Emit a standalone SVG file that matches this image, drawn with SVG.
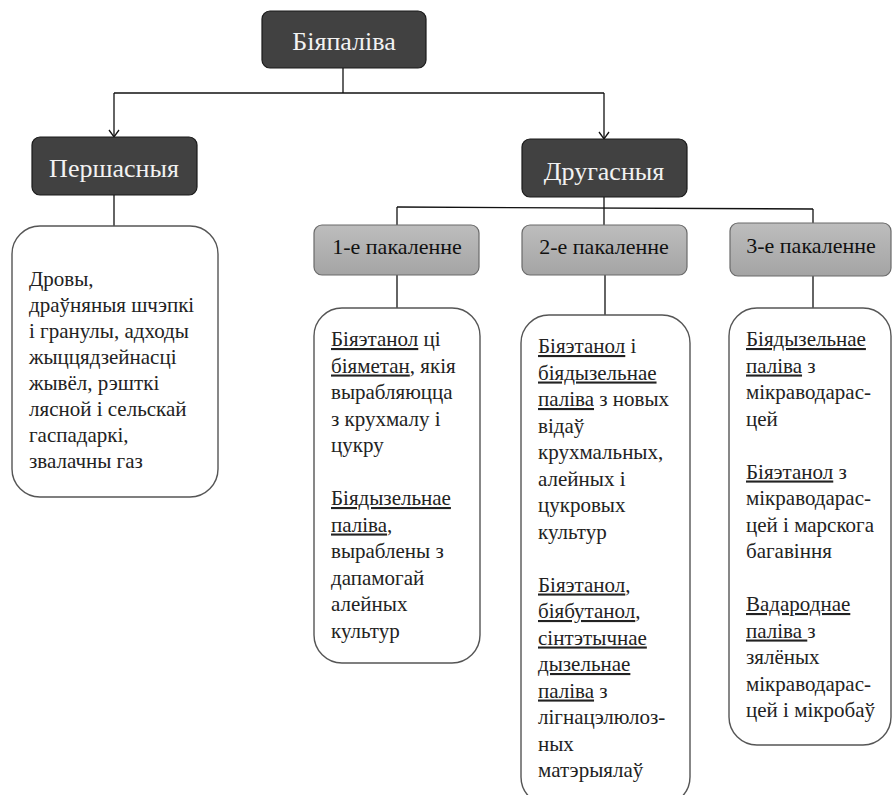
<svg xmlns="http://www.w3.org/2000/svg" width="893" height="795" viewBox="0 0 893 795">
<defs>
<linearGradient id="g" x1="0" y1="0" x2="0" y2="1">
<stop offset="0" stop-color="#bdbdbd"/>
<stop offset="1" stop-color="#a4a4a4"/>
</linearGradient>
<marker id="arr" markerWidth="12" markerHeight="12" refX="10" refY="6" orient="auto" markerUnits="userSpaceOnUse" viewBox="0 0 12 12">
<path d="M3,1 L10,6 L3,11" fill="none" stroke="#111" stroke-width="1.3"/>
</marker>
</defs>
<rect width="893" height="795" fill="#fff"/>
<g id="connectors" fill="none" stroke="#111" stroke-width="1.3">
<path d="M343,68 V93"/>
<path d="M114,93 H604"/>
<path d="M114,93 V137" marker-end="url(#arr)"/>
<path d="M604,93 V139" marker-end="url(#arr)"/>
<path d="M114,195 V226"/>
<path d="M604,197 V208"/>
<path d="M397,207 L813,209"/>
<path d="M397,207 V225"/>
<path d="M604,208 V225"/>
<path d="M813,209 V224"/>
<path d="M397,275 V308"/>
<path d="M605,275 V315"/>
<path d="M813,276 V308"/>
</g>
<g id="biopaliva">
<rect fill="#414141" stroke="#1a1a1a" stroke-width="1.2" x="262" y="11" width="164" height="57" rx="8"/>
<text font-family="Liberation Serif" font-size="26" fill="#f2f2f2" text-anchor="middle" x="344" y="50">Біяпаліва</text>
</g>
<g id="pershasnyja">
<rect fill="#414141" stroke="#1a1a1a" stroke-width="1.2" x="32" y="137" width="165" height="58" rx="8"/>
<text font-family="Liberation Serif" font-size="26" fill="#f2f2f2" text-anchor="middle" x="114" y="177">Першасныя</text>
</g>
<g id="drugasnyja">
<rect fill="#414141" stroke="#1a1a1a" stroke-width="1.2" x="522" y="139" width="165" height="58" rx="8"/>
<text font-family="Liberation Serif" font-size="26" fill="#f2f2f2" text-anchor="middle" x="604" y="180">Другасныя</text>
</g>
<g id="gen1">
<rect fill="url(#g)" stroke="#6a6a6a" stroke-width="1.2" x="314" y="225" width="165" height="50" rx="8"/>
<text font-family="Liberation Serif" font-size="22" fill="#111" text-anchor="middle" x="397" y="254">1-е пакаленне</text>
</g>
<g id="gen2">
<rect fill="url(#g)" stroke="#6a6a6a" stroke-width="1.2" x="522" y="225" width="165" height="50" rx="8"/>
<text font-family="Liberation Serif" font-size="22" fill="#111" text-anchor="middle" x="604" y="254">2-е пакаленне</text>
</g>
<g id="gen3">
<rect fill="url(#g)" stroke="#6a6a6a" stroke-width="1.2" x="730" y="223" width="161" height="53" rx="8"/>
<text font-family="Liberation Serif" font-size="22" fill="#111" text-anchor="middle" x="811" y="253">3-е пакаленне</text>
</g>
<g id="primary-content">
<rect fill="#fff" stroke="#555" stroke-width="1.4" x="12" y="226" width="206" height="271" rx="28"/>
<text font-family="Liberation Serif" font-size="21" fill="#222">
<tspan x="29" y="286">Дровы,</tspan>
<tspan x="29" y="312">драўняныя шчэпкі</tspan>
<tspan x="29" y="338">і гранулы, адходы</tspan>
<tspan x="29" y="364">жыццядзейнасці</tspan>
<tspan x="29" y="390">жывёл, рэшткі</tspan>
<tspan x="29" y="416">лясной і сельскай</tspan>
<tspan x="29" y="442">гаспадаркі,</tspan>
<tspan x="29" y="468">звалачны газ</tspan>
</text>
</g>
<g id="gen1-content">
<rect fill="#fff" stroke="#555" stroke-width="1.4" x="314" y="308" width="166" height="355" rx="28"/>
<text font-family="Liberation Serif" font-size="21" fill="#222">
<tspan x="331" y="346"><tspan text-decoration="underline">Біяэтанол</tspan> ці</tspan>
<tspan x="331" y="372.5"><tspan text-decoration="underline">біяметан</tspan>, якія</tspan>
<tspan x="331" y="399">вырабляюцца</tspan>
<tspan x="331" y="425.5">з крухмалу і</tspan>
<tspan x="331" y="452">цукру</tspan>
<tspan x="331" y="505" text-decoration="underline">Біядызельнае</tspan>
<tspan x="331" y="531.5"><tspan text-decoration="underline">паліва</tspan>,</tspan>
<tspan x="331" y="558">выраблены з</tspan>
<tspan x="331" y="584.5">дапамогай</tspan>
<tspan x="331" y="611">алейных</tspan>
<tspan x="331" y="637.5">культур</tspan>
</text>
</g>
<g id="gen2-content">
<rect fill="#fff" stroke="#555" stroke-width="1.4" x="521" y="315" width="169" height="490" rx="28"/>
<text font-family="Liberation Serif" font-size="21" fill="#222">
<tspan x="538" y="353"><tspan text-decoration="underline">Біяэтанол</tspan> і</tspan>
<tspan x="538" y="379.5" text-decoration="underline">біядызельнае</tspan>
<tspan x="538" y="406"><tspan text-decoration="underline">паліва</tspan> з новых</tspan>
<tspan x="538" y="432.5">відаў</tspan>
<tspan x="538" y="459">крухмальных,</tspan>
<tspan x="538" y="485.5">алейных і</tspan>
<tspan x="538" y="512">цукровых</tspan>
<tspan x="538" y="538.5">культур</tspan>
<tspan x="538" y="591.5"><tspan text-decoration="underline">Біяэтанол</tspan>,</tspan>
<tspan x="538" y="618"><tspan text-decoration="underline">біябутанол</tspan>,</tspan>
<tspan x="538" y="644.5" text-decoration="underline">сінтэтычнае</tspan>
<tspan x="538" y="671" text-decoration="underline">дызельнае</tspan>
<tspan x="538" y="697.5"><tspan text-decoration="underline">паліва</tspan> з</tspan>
<tspan x="538" y="724">лігнацэлюлоз-</tspan>
<tspan x="538" y="750.5">ных</tspan>
<tspan x="538" y="777">матэрыялаў</tspan>
</text>
</g>
<g id="gen3-content">
<rect fill="#fff" stroke="#555" stroke-width="1.4" x="729" y="308" width="162" height="437" rx="28"/>
<text font-family="Liberation Serif" font-size="21" fill="#222">
<tspan x="746" y="346" text-decoration="underline">Біядызельнае</tspan>
<tspan x="746" y="372.5"><tspan text-decoration="underline">паліва</tspan> з</tspan>
<tspan x="746" y="399">мікраводарас-</tspan>
<tspan x="746" y="425.5">цей</tspan>
<tspan x="746" y="478.5"><tspan text-decoration="underline">Біяэтанол</tspan> з</tspan>
<tspan x="746" y="505">мікраводарас-</tspan>
<tspan x="746" y="531.5">цей і марскога</tspan>
<tspan x="746" y="558">багавіння</tspan>
<tspan x="746" y="611" text-decoration="underline">Вадароднае</tspan>
<tspan x="746" y="637.5"><tspan text-decoration="underline">паліва </tspan>з</tspan>
<tspan x="746" y="664">зялёных</tspan>
<tspan x="746" y="690.5">мікраводарас-</tspan>
<tspan x="746" y="717">цей і мікробаў</tspan>
</text>
</g>
</svg>
